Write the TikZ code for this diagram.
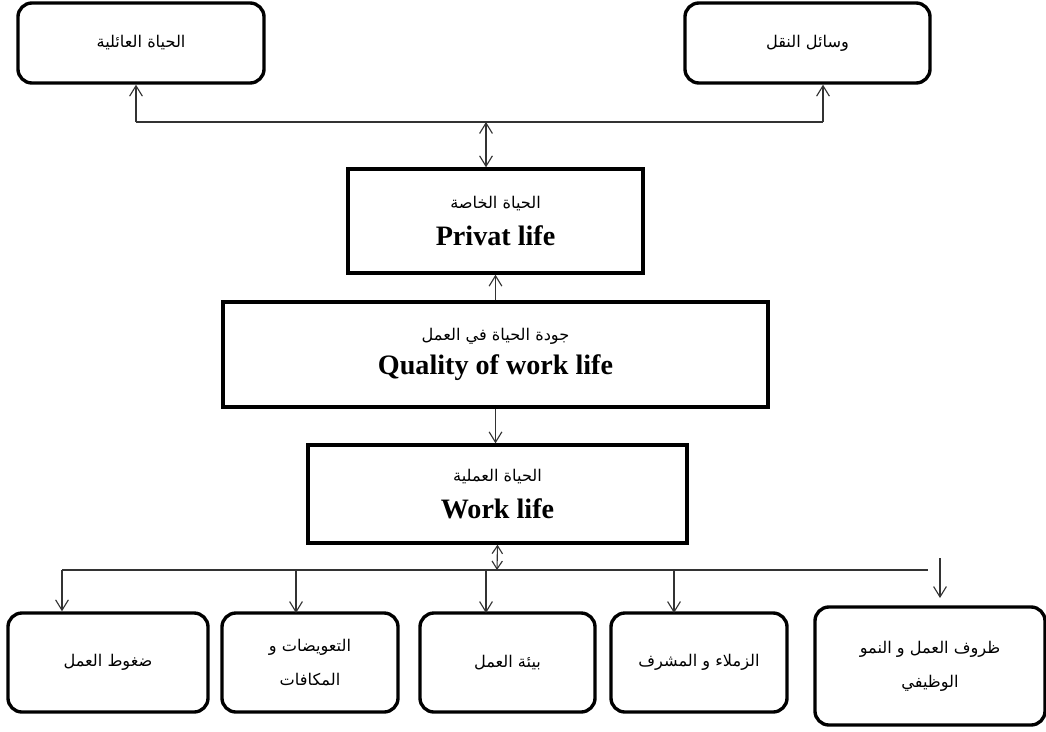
\documentclass[tikz,border=0pt]{standalone}
\usepackage{fontspec}
\usepackage{tikz}
\usetikzlibrary{arrows.meta}
\setmainfont{Liberation Serif}
\newfontfamily\arabicfont[Script=Arabic]{DejaVu Sans}
\TeXXeTstate=1
\newcommand{\artext}[1]{{\arabicfont\fontsize{11.5}{14}\selectfont\beginR #1\endR}}
\newcommand{\entext}[1]{{\fontsize{20}{24}\selectfont\bfseries #1}}

\begin{document}
\begin{tikzpicture}[x=0.025cm,y=-0.025cm]
    \tikzstyle{every node}+=[inner sep=0pt]
    \tikzstyle{roundbox}=[draw, line width=2.4pt, rounded corners=0.35cm, align=center, minimum height=2.475cm]
    \tikzstyle{mainbox}=[draw, line width=2.4pt, align=center]
    \tikzstyle{link}=[draw=black!80, line width=0.8pt, >={Straight Barb[length=2.6mm,width=3.2mm]}]
    \useasboundingbox (0,0) rectangle (1046,731);
    % top boxes
    \node [roundbox, minimum width=6.15cm, minimum height=2cm] (family) at (141,43) {\artext{الحياة العائلية}};
    \node [roundbox, minimum width=6.125cm, minimum height=2cm] (transport) at (807.5,43) {\artext{وسائل النقل}};
    % main boxes
    \node [mainbox, minimum width=7.375cm, minimum height=2.6cm] (privat) at (495.5,221) {\artext{الحياة الخاصة}\\[10pt] \entext{Privat life}};
    \node [mainbox, minimum width=13.625cm, minimum height=2.625cm] (qwl) at (495.5,354.5) {\artext{جودة الحياة في العمل}\\[6pt] \entext{Quality of work life}};
    \node [mainbox, minimum width=9.475cm, minimum height=2.45cm] (work) at (497.5,494) {\artext{الحياة العملية}\\[10pt] \entext{Work life}};
    % bottom boxes
    \node [roundbox, minimum width=5cm] (stress) at (108,662.5) {\artext{ضغوط العمل}};
    \node [roundbox, minimum width=4.4cm] (reward) at (310,662.5) {\artext{التعويضات و}\\[12pt] \artext{المكافات}};
    \node [roundbox, minimum width=4.375cm] (environ) at (507.5,662.5) {\artext{بيئة العمل}};
    \node [roundbox, minimum width=4.4cm] (peers) at (699,662.5) {\artext{الزملاء و المشرف}};
    \node [roundbox, minimum width=5.75cm, minimum height=2.95cm] (conditions) at (930,666) {\artext{ظروف العمل و النمو}\\[12pt] \artext{الوظيفي}};
    % top branch
    \coordinate (tl) at (136,122);
    \coordinate (tm) at (486,122);
    \coordinate (tr) at (823,122);
    \draw [link] (tl) -- (tr);
    \draw [link,->] (tl) -- (tl |- family.south);
    \draw [link,->] (tr) -- (tr |- transport.south);
    \draw [link,<->] (tm) -- (tm |- privat.north);
    \draw [link,->] (qwl.north) -- (privat.south);
    \draw [link,->] (qwl.south) -- (qwl.south |- work.north);
    % bottom branch
    \coordinate (bl) at (62,570);
    \coordinate (bm) at (497,570);
    \coordinate (br) at (928,570);
    \coordinate (b5top) at (940,558);
    \coordinate (b5end) at (940,598);
    \draw [link] (bl) -- (br);
    \draw [link,<->,>={Straight Barb[length=2mm,width=2.6mm]}] (work.south) -- (bm);
    \draw [link,->] (bl) -- (bl |- stress.north);
    \draw [link,->] (296,570) -- (296,613);
    \draw [link,->] (486,570) -- (486,613);
    \draw [link,->] (674,570) -- (674,613);
    \draw [link,->] (b5top) -- (b5end);
\end{tikzpicture}
\end{document}
